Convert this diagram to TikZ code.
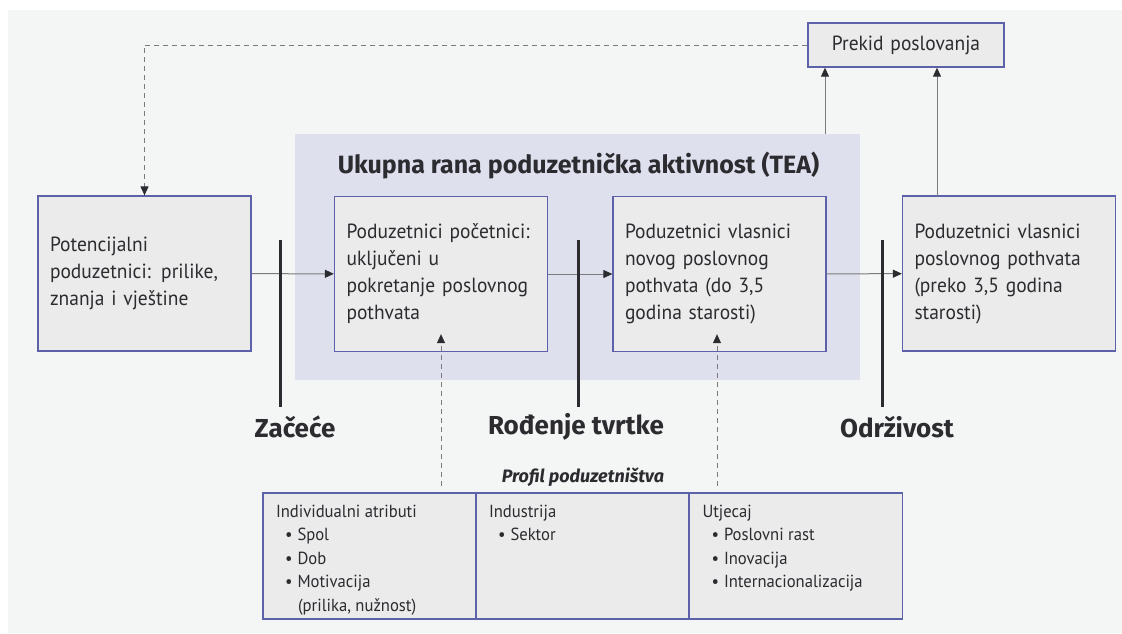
\documentclass[tikz,border=0pt]{standalone}
\usepackage{fontspec}
\setmainfont{PT Sans}[FakeStretch=0.95]
\newfontfamily\headfont{Fira Sans}
\usetikzlibrary{arrows.meta}
\definecolor{bggray}{HTML}{F4F5F5}
\definecolor{teafill}{HTML}{DFE0EE}
\definecolor{boxfill}{HTML}{EBEBEB}
\definecolor{boxline}{HTML}{5D61AA}
\definecolor{lnk}{HTML}{7A7B7D}
\definecolor{ink}{HTML}{2B2B30}
\newcommand\bitem[1]{\\\hspace*{9pt}\textbullet\hspace{5pt}#1}
\begin{document}
\begin{tikzpicture}[x=1pt,y=-1pt]
    \tikzset{box/.style={draw=boxline,line width=1.3pt,fill=boxfill,text=ink,align=left,inner xsep=12pt,text width=189pt,minimum height=155pt,font=\fontsize{20.5}{27}\selectfont},
      cell/.style={draw=boxline,line width=1.3pt,fill=boxfill,text=ink,inner sep=0pt,minimum width=213pt,minimum height=126pt},
      link/.style={draw=lnk,line width=1pt,-{Triangle[length=9pt,width=8pt,color=ink]}},
      dlink/.style={link,dash pattern=on 5pt off 4pt},
      bar/.style={draw=ink,line width=3pt},
      stage/.style={text=ink,font=\headfont\fontsize{26}{30}\selectfont\bfseries}};
    % background
    \fill[white] (0,0) rectangle (1122,633);
    \fill[bggray] (8,10) rectangle (1122,633);
    \node[fill=teafill,minimum width=565pt,minimum height=246pt,inner sep=0pt] (tea) at (577.5,257) {};
    \node[text=ink,font=\headfont\fontsize{25}{29}\selectfont\bfseries] (teatitle) at (578.5,166) {Ukupna rana poduzetnička aktivnost (TEA)};
    % stages
    \node[box] (pot) at (144.5,273.5) {Potencijalni\\poduzetnici: prilike,\\znanja i vještine};
    \node[box] (poc) at (441,274) {Poduzetnici početnici:\\uključeni u\\pokretanje poslovnog\\pothvata};
    \node[box] (novi) at (719.5,274) {Poduzetnici vlasnici\\novog poslovnog\\pothvata (do 3,5\\godina starosti)};
    \node[box] (preko) at (1009,273.5) {Poduzetnici vlasnici\\poslovnog pothvata\\(preko 3,5 godina\\starosti)};
    \node[box,text width=172pt,minimum height=44pt,inner ysep=0pt,align=center] (prekid) at (906,45) {Prekid poslovanja};
    \draw[link] (pot) -- (poc);
    \draw[link] (poc) -- (novi);
    \draw[link] (novi) -- (preko);
    \coordinate (up1) at (825,134);
    \coordinate (up2) at (937,196);
    \draw[link] (up1) -- (up1 |- prekid.south);
    \draw[link] (up2) -- (up2 |- prekid.south);
    \draw[dlink] (prekid.west) -| (pot.north);
    % milestones
    \draw[bar] (280,240) -- (280,407);
    \draw[bar] (578.5,240) -- (578.5,407);
    \draw[bar] (882.5,240) -- (882.5,407);
    \node[stage] (zacece) at (295,427) {Začeće};
    \node[stage] (rodjenje) at (576,427) {Rođenje tvrtke};
    \node[stage] (odrzivost) at (897,427) {Održivost};
    % profile
    \node[text=ink,font=\headfont\fontsize{18}{21}\selectfont\bfseries\itshape] (profil) at (583,477) {Profil poduzetništva};
    \node[cell] (attr) at (369.5,556) {\parbox[c][102pt][t]{187pt}{\fontsize{17.5}{23.5}\selectfont Individualni atributi\bitem{Spol}\bitem{Dob}\bitem{Motivacija}\\\hspace*{22pt}(prilika, nužnost)}};
    \node[cell] (ind) at (582.5,556) {\parbox[c][102pt][t]{187pt}{\fontsize{17.5}{23.5}\selectfont Industrija\bitem{Sektor}}};
    \node[cell] (utj) at (796,556) {\parbox[c][102pt][t]{187pt}{\fontsize{17.5}{23.5}\selectfont Utjecaj\bitem{Poslovni rast}\bitem{Inovacija}\bitem{Internacionalizacija}}};
    \coordinate (d1) at (441,486);
    \coordinate (d2) at (717,486);
    \draw[dlink] (d1) -- ([yshift=18pt]poc.south);
    \draw[dlink] (d2) -- ([yshift=18pt]poc.south -| d2);
\end{tikzpicture}
\end{document}
